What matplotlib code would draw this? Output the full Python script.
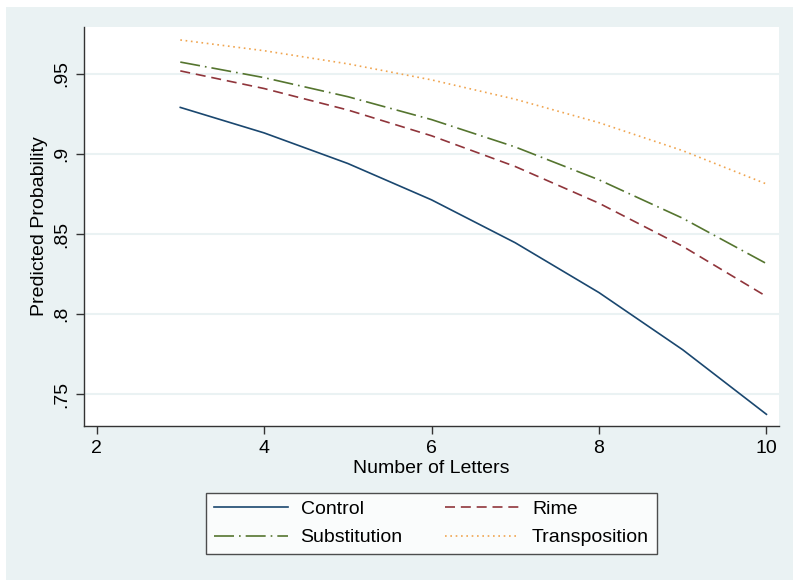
import matplotlib
matplotlib.use("Agg")
import matplotlib.pyplot as plt
from matplotlib.patches import Rectangle

# values
letters = [3, 4, 5, 6, 7, 8, 9, 10]
control = [0.9291, 0.9132, 0.8941, 0.8714, 0.8446, 0.8135, 0.7778, 0.7375]
rime = [0.9519, 0.9409, 0.9275, 0.9114, 0.8922, 0.8693, 0.8424, 0.8111]
substitution = [0.9574, 0.9477, 0.9358, 0.9215, 0.9044, 0.8839, 0.8599, 0.8316]
transposition = [0.9712, 0.9645, 0.9563, 0.9463, 0.9342, 0.9196, 0.9021, 0.8813]

x_ticks = [2, 4, 6, 8, 10]
y_ticks = [0.75, 0.80, 0.85, 0.90, 0.95]
y_tick_labels = [".75", ".8", ".85", ".9", ".95"]

plt.rcParams["font.family"] = ["Liberation Sans", "DejaVu Sans"]

W, H = 793, 580
fig = plt.figure(figsize=(W / 100, H / 100), dpi=100)
fig.patch.set_facecolor("white")

# stata-style outer panel
fig.patches.append(Rectangle((6 / W, 0), 1, 1 - 7 / H, transform=fig.transFigure,
                             facecolor="#EAF2F3", edgecolor="none", zorder=-10))

left, right, top, bottom = 84, 779, 27, 426
ax = fig.add_axes([left / W, 1 - bottom / H, (right - left) / W, (bottom - top) / H])
ax.set_facecolor("white")

lw = 1.2
l_ctrl, = ax.plot(letters, control, color="#1A476F", lw=lw, label="Control")
l_rime, = ax.plot(letters, rime, color="#90353B", lw=lw, dashes=(6, 3.5), label="Rime")
l_sub, = ax.plot(letters, substitution, color="#55752F", lw=lw, dashes=(12, 3, 1, 3),
                 label="Substitution")
l_tra, = ax.plot(letters, transposition, color="#F0A550", lw=lw, dashes=(1, 2.2),
                 label="Transposition")

ax.set_xlim(1.85, 10.15)
ax.set_ylim(0.7302, 0.9793)
ax.set_xticks(x_ticks)
ax.set_yticks(y_ticks)
ax.set_yticklabels(y_tick_labels, rotation=90, va="center")

ax.grid(axis="y", color="#EAF2F3", lw=1.5)
ax.set_axisbelow(True)
for s in ["top", "right"]:
    ax.spines[s].set_visible(False)
for s in ["left", "bottom"]:
    ax.spines[s].set_color("#333333")
    ax.spines[s].set_linewidth(1.0)
ax.tick_params(direction="out", length=6, width=1, color="#333333",
               labelsize=14, pad=4)

ax.set_xlabel("Number of Letters", fontsize=14, labelpad=2)
ax.set_ylabel("Predicted Probability", fontsize=14, labelpad=4)

# legend fills column-wise, so order handles to read row-wise like stata
handles = [l_ctrl, l_sub, l_rime, l_tra]
leg = fig.legend(handles, [h.get_label() for h in handles],
                 loc="center", bbox_to_anchor=((left + right) / 2 / W, 1 - 523.5 / H),
                 ncol=2, fontsize=14, frameon=True, fancybox=False,
                 handlelength=3.8, handletextpad=0.65, columnspacing=2.2,
                 labelspacing=0.55, borderpad=0.4)
leg.get_frame().set_edgecolor("#222222")
leg.get_frame().set_linewidth(1.0)

fig.savefig("out.png", dpi=100, facecolor=fig.get_facecolor())
